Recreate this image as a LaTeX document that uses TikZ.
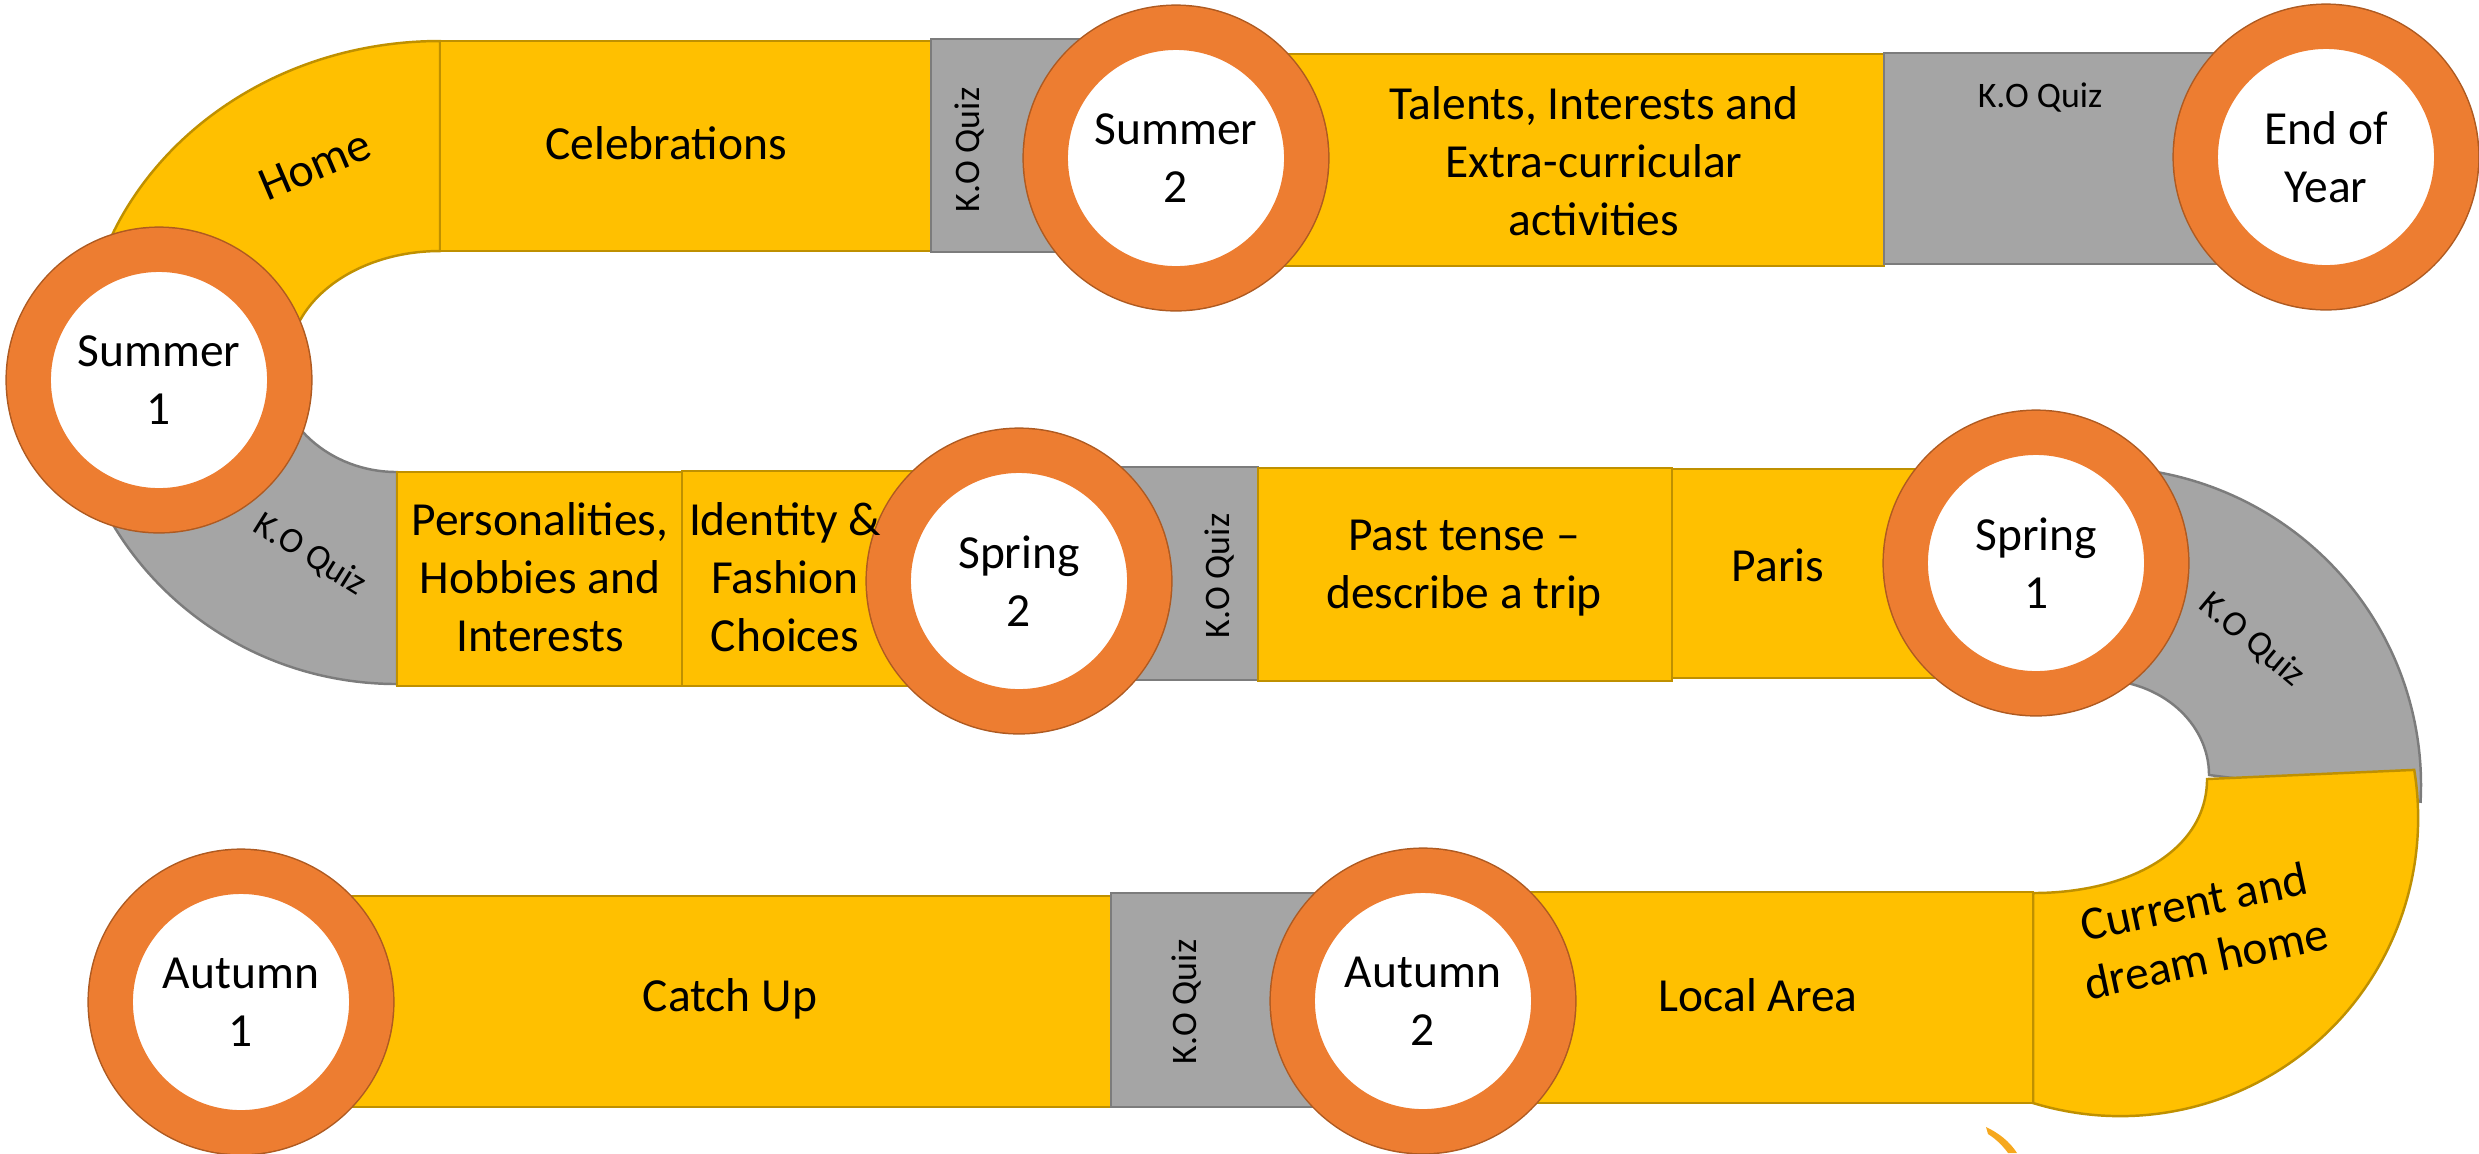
\documentclass[tikz,border=0pt]{standalone}
\usepackage{fontspec}
\setmainfont{Carlito}
\usepackage{tikz}

\definecolor{tileyellow}{HTML}{FFC000}
\definecolor{tileedge}{HTML}{BF9000}
\definecolor{quizgrey}{HTML}{A5A5A5}
\definecolor{quizedge}{HTML}{7C7C7C}
\definecolor{ringorange}{HTML}{ED7D31}
\definecolor{ringedge}{HTML}{AE5A21}
\definecolor{tipyellow}{HTML}{F6A81E}

\newcommand{\tilefont}{\fontsize{13.5}{16.5}\selectfont}
\newcommand{\kofont}{\fontsize{10.2}{12.4}\selectfont}

\begin{document}
\begin{tikzpicture}[
    x=0.01cm, y=-0.01cm,
    tile/.style={fill=tileyellow, draw=tileedge, line width=0.7pt},
    quiz/.style={fill=quizgrey, draw=quizedge, line width=0.7pt},
    season/.style={circle, fill=white, draw=ringorange, line width=0.44cm, minimum size=2.6cm, inner sep=0pt, align=center, font=\tilefont, preaction={draw=ringedge, line width=0.47cm}},
    topic/.style={font=\tilefont, align=center, inner sep=0pt},
    kotext/.style={font=\kofont, inner sep=0pt}
]
\useasboundingbox (0,0) rectangle (2479,1153);

% Left bend
\draw[tile] (440,41) arc[start angle=270, end angle=180, x radius=357, y radius=321]
    -- (289,362) arc[start angle=180, end angle=270, x radius=151, y radius=111] -- cycle;
\draw[quiz] (397,684) arc[start angle=90, end angle=180, x radius=329, y radius=322]
    -- (275,362) arc[start angle=180, end angle=90, x radius=122, y radius=110] -- cycle;

% Top row
\draw[tile] (440,41) rectangle (931,251);
\draw[quiz] (931,39) rectangle (1110,252);
\draw[tile] (1250,54) rectangle (1884,266);
\draw[quiz] (1884,53) rectangle (2300,264);

% Middle row
\draw[tile] (397,472) rectangle (682,686);
\draw[tile] (682,471) rectangle (960,686);
\draw[quiz] (1080,467) rectangle (1258,680);
\draw[tile] (1258,468) rectangle (1672,681);
\draw[tile] (1672,469) rectangle (2000,678);

% Right bend
\draw[quiz] (2000,467) -- (2100,467) arc[start angle=-90, end angle=3, x radius=321, y radius=318]
    -- (2209,775) arc[start angle=0, end angle=-90, x radius=109, y radius=95] -- (2000,680) -- cycle;
\draw[tile] (2033,1103) arc[start angle=107, end angle=-9.3, radius=298]
    -- (2207,779) .. controls (2207,850) and (2130,893) .. (2033,893) -- cycle;

% Bottom row
\draw[tile] (300,896) rectangle (1111,1107);
\draw[quiz] (1111,893) rectangle (1400,1107);
\draw[tile] (1450,892) rectangle (2033,1103);

% Arrow tip cut off at the bottom
\fill[tipyellow] (1986,1127) .. controls (1999,1133) and (2010,1142) .. (2017,1153)
    -- (2008,1153) .. controls (2003,1146) and (1996,1139) .. (1988,1134) -- cycle;

% Seasons
\node[season] (sum1) at (159,380) {Summer\\1};
\node[season] (sum2) at (1176,158) {Summer\\2};
\node[season] (eoy) at (2326,157) {End of\\Year};
\node[season] (spr2) at (1019,581) {Spring\\2};
\node[season] (spr1) at (2036,563) {Spring\\1};
\node[season] (aut1) at (241,1002) {Autumn\\1};
\node[season] (aut2) at (1423,1001) {Autumn\\2};

% Topics
\node[topic, rotate=23] (home) at (315,165) {Home};
\node[topic] (celeb) at (666,143) {Celebrations};
\node[kotext, rotate=90] (quiz1) at (970,150) {K.O Quiz};
\node[topic] (talents) at (1594,161) {Talents, Interests and\\Extra-curricular\\activities};
\node[kotext] (quiz2) at (2040,98) {K.O Quiz};
\node[kotext, rotate=-32] (quiz0) at (310,555) {K.O Quiz};
\node[topic] (person) at (540,577) {Personalities,\\Hobbies and\\Interests};
\node[topic] (ident) at (785,577) {Identity \&\\Fashion\\Choices};
\node[kotext, rotate=90] (quiz3) at (1220,576) {K.O Quiz};
\node[topic] (past) at (1464,568) {Past tense –\\describe a trip};
\node[topic] (paris) at (1778,565) {Paris};
\node[kotext, rotate=-40] (quiz4) at (2252,640) {K.O Quiz};
\node[topic, rotate=12] (dream) at (2200,930) {Current and\\dream home};
\node[topic] (local) at (1758,995) {Local Area};
\node[kotext, rotate=90] (quiz5) at (1187,1002) {K.O Quiz};
\node[topic] (catch) at (730,999) {Catch Up};

\end{tikzpicture}
\end{document}
